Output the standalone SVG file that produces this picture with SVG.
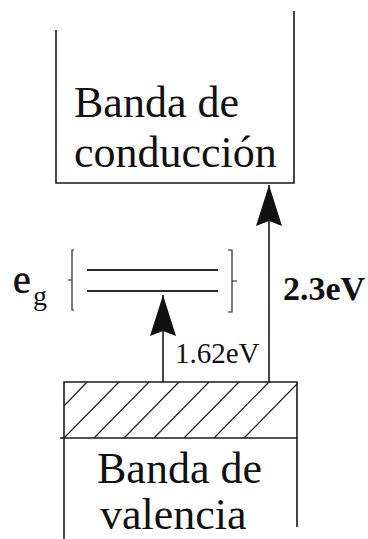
<svg xmlns="http://www.w3.org/2000/svg" width="368" height="539" viewBox="0 0 368 539">
<style>
.ln{stroke:#1a1a1a;stroke-width:1.6;fill:none}
.thin{stroke:#222;stroke-width:1.2;fill:none}
.lvl{stroke:#2a2a2a;stroke-width:1.8;fill:none}
.t{font-family:"Liberation Serif","Times New Roman",serif;fill:#111}
.big{font-size:44px}
.ar{stroke:#1a1a1a;stroke-width:1.6;fill:none;marker-end:url(#ah)}
</style>
<defs>
<marker id="ah" markerUnits="userSpaceOnUse" viewBox="-42 -14 44 28" markerWidth="44" markerHeight="28" refX="0" refY="0" orient="auto">
<path d="M0,0 L-41,13 L-36,0 L-41,-13 Z" fill="#111"/>
</marker>
</defs>
<rect width="368" height="539" fill="#fff"/>
<g id="conduction-band">
<path class="ln" d="M56,30 V183 H294 V11"/>
<text class="t big"><tspan x="74" y="117">Banda de</tspan><tspan x="74" y="167">conducción</tspan></text>
</g>
<g id="gap-levels">
<line class="lvl" x1="87" y1="270" x2="218" y2="270"/>
<line class="lvl" x1="87" y1="291" x2="218" y2="291"/>
<path class="thin" d="M74,250 H72 V310 H74 M72,280 H68"/>
<path class="thin" d="M228,250 H232 V312 H228 M232,281 H237"/>
<text class="t" x="13" y="293" font-size="40" stroke="#111" stroke-width="0.6">e<tspan x="33" y="305" font-size="28" stroke="none">g</tspan></text>
</g>
<g id="valence-band">
<path class="ln" d="M64,539 V382 H297 V527"/>
<line class="ln" x1="60" y1="438" x2="297" y2="438"/>
<g class="thin">
<line x1="64" y1="406" x2="87" y2="382"/>
<line x1="64" y1="438" x2="119" y2="382"/>
<line x1="94" y1="438" x2="149" y2="382"/>
<line x1="124" y1="438" x2="179" y2="382"/>
<line x1="154" y1="438" x2="209" y2="382"/>
<line x1="184" y1="438" x2="239" y2="382"/>
<line x1="214" y1="438" x2="269" y2="382"/>
<line x1="244" y1="438" x2="297" y2="384"/>
</g>
<text class="t big"><tspan x="97" y="483">Banda de</tspan><tspan x="100" y="529">valencia</tspan></text>
</g>
<g id="connectors">
<line class="ar" x1="269" y1="382" x2="269" y2="185"/>
<line class="ar" x1="163" y1="382" x2="163" y2="295"/>
</g>
<g id="arrow-labels">
<text class="t" x="283" y="300" font-size="34" font-weight="bold">2.3eV</text>
<text class="t" x="175" y="363" font-size="29">1.62eV</text>
</g>
</svg>
